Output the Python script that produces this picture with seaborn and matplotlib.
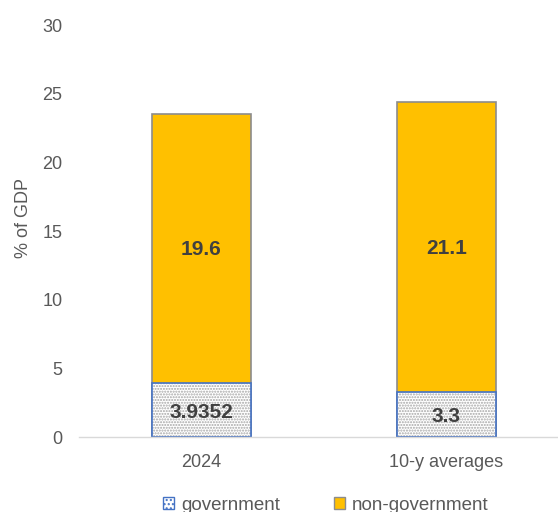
import matplotlib
matplotlib.use("Agg")
import matplotlib.pyplot as plt
import seaborn as sns
import pandas as pd
from matplotlib.patches import Patch

categories = ["2024", "10-y averages"]
government = [3.9352, 3.3]
non_government = [19.6, 21.1]
gov_labels = ["3.9352", "3.3"]
nongov_labels = ["19.6", "21.1"]
yticks = [0, 5, 10, 15, 20, 25, 30]

sns.set_theme(style="white")
plt.rcParams["font.family"] = ["Liberation Sans", "DejaVu Sans"]
plt.rcParams["hatch.linewidth"] = 1.0

df = pd.DataFrame({
    "cat": categories,
    "gov": government,
    "nongov": non_government,
})
df["total"] = df["gov"] + df["nongov"]

fig = plt.figure(figsize=(5.58, 5.12), dpi=100)
ax = fig.add_axes([79/558, 1-437/512, (569-79)/558, (437-25)/512])

W = 0.404
# total (non-government stacked on government)
sns.barplot(data=df, x="cat", y="total", color="#FFC000", saturation=1,
            edgecolor="#8C8C8C", linewidth=1.2, width=W, ax=ax)
# government (hatched fill, grey dots)
sns.barplot(data=df, x="cat", y="gov", color="white", saturation=1,
            edgecolor="#A6A6A6", linewidth=0, hatch="......", width=W, ax=ax)
# blue outline for government
ax.bar(range(len(categories)), df["gov"], width=W, fill=False,
       edgecolor="#4472C4", linewidth=1.2)

txtc = "#404040"
for i in range(len(categories)):
    g = df["gov"][i]
    n = df["nongov"][i]
    ax.text(i, g/2 - 0.15, gov_labels[i], ha="center", va="center",
            fontsize=15, fontweight="bold", color=txtc)
    ax.text(i, g + n/2 - 0.1, nongov_labels[i], ha="center", va="center",
            fontsize=15, fontweight="bold", color=txtc)

ax.set_xlim(-0.5, 1.5)
ax.set_ylim(0, 30)
ax.set_yticks(yticks)
ax.set_xlabel("")
ax.set_ylabel("")
fig.text(23/558, 1-218/512, "% of GDP", rotation=90, ha="center", va="center",
         fontsize=13, color="#595959")
ax.tick_params(axis="y", length=0, labelsize=13, labelcolor="#595959", pad=12)
ax.tick_params(axis="x", which="major", length=0, labelsize=13,
               labelcolor="#595959", pad=12)
ax.set_xticks([-0.5, 0.5, 1.5], minor=True)
ax.tick_params(axis="x", which="minor", length=4, width=1, color="#D9D9D9")
for s in ["top", "right", "left"]:
    ax.spines[s].set_visible(False)
ax.spines["bottom"].set_color("#D9D9D9")
ax.spines["bottom"].set_linewidth(1)

handles = [
    Patch(facecolor="white", edgecolor="#4472C4", hatch="....", label="government"),
    Patch(facecolor="#FFC000", edgecolor="#8C8C8C", label="non-government"),
]
fig.legend(handles=handles, loc="center", bbox_to_anchor=(326/558, 1-505/512),
           ncol=2, frameon=False, fontsize=13.5, handlelength=0.55, handleheight=0.55,
           handletextpad=0.4, columnspacing=2.9, labelcolor="#595959")

fig.savefig("out.png", dpi=100)
